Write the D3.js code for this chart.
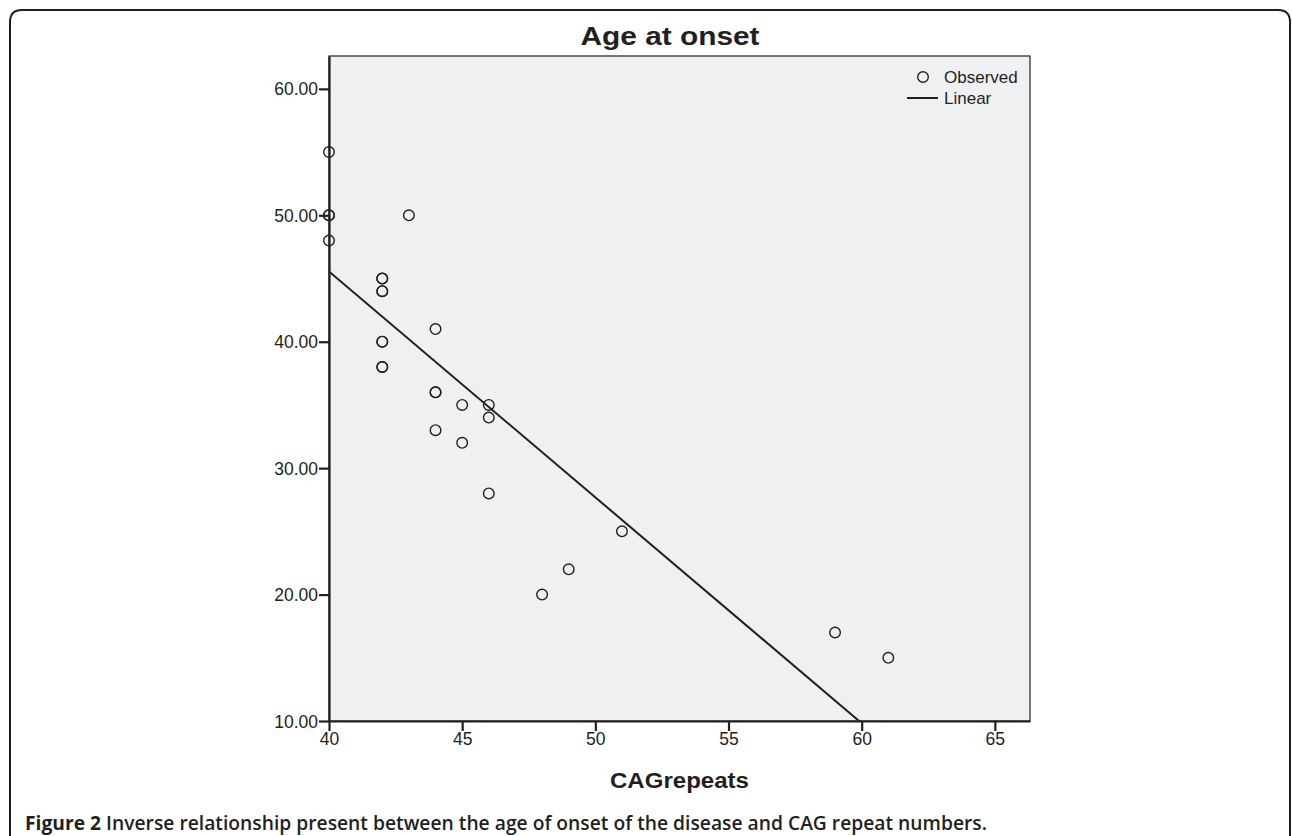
<!DOCTYPE html>
<html>
<head>
<meta charset="utf-8">
<script src="https://cdn.jsdelivr.net/npm/d3@7"></script>
<style>
  body { margin: 0; background: #fff; }
  svg { display: block; }
</style>
</head>
<body>
<svg width="1292" height="836"></svg>
<script>
// CAG repeats vs age at onset (duplicates appear as darker circles)
const cagRepeats = [40, 40, 40, 40, 42, 42, 42, 42, 42, 42, 42, 42, 43, 44, 44, 44, 44, 45, 45, 46, 46, 46, 48, 49, 51, 59, 61];
const ageOnset   = [55, 50, 50, 48, 45, 45, 44, 44, 40, 40, 38, 38, 50, 41, 36, 36, 33, 35, 32, 35, 34, 28, 20, 22, 25, 17, 15];
const yTicks = [10, 20, 30, 40, 50, 60];
const xTicks = [40, 45, 50, 55, 60, 65];
const legendLabels = ['Observed', 'Linear'];

const ink = '#231f20';
const svg = d3.select('svg'),
    width = +svg.attr('width'),
    height = +svg.attr('height');

// outer figure frame with rounded corners
svg.append('path')
    .attr('d', `M10,${height + 5} L10,22 Q10,10 22,10 L1278,10 Q1290,10 1290,22 L1290,${height + 5}`)
    .attr('fill', 'none')
    .attr('stroke', ink)
    .attr('stroke-width', 2);

const plot = { left: 329, right: 1030, top: 56, bottom: 721 };

const x = d3.scaleLinear()
    .domain([40, 66.32])
    .range([plot.left, plot.right]);
const y = d3.scaleLinear()
    .domain([10, 62.6])
    .range([plot.bottom, plot.top]);

svg.append('rect')
    .attr('x', plot.left)
    .attr('y', plot.top)
    .attr('width', plot.right - plot.left)
    .attr('height', plot.bottom - plot.top)
    .attr('fill', '#eff0f2')
    .attr('stroke', ink)
    .attr('stroke-width', 1.2);

svg.append('defs').append('clipPath').attr('id', 'clip')
  .append('rect')
    .attr('x', plot.left)
    .attr('y', plot.top)
    .attr('width', plot.right - plot.left)
    .attr('height', plot.bottom - plot.top);

// axes
const yAxis = svg.append('g')
    .attr('transform', `translate(${plot.left},0)`)
    .call(d3.axisLeft(y).tickValues(yTicks).tickFormat(d3.format('.2f'))
      .tickSizeInner(10).tickSizeOuter(0).tickPadding(1));
const xAxis = svg.append('g')
    .attr('transform', `translate(0,${plot.bottom})`)
    .call(d3.axisBottom(x).tickValues(xTicks)
      .tickSizeInner(10).tickSizeOuter(0).tickPadding(2));

[xAxis, yAxis].forEach(g => {
  g.select('.domain').attr('stroke', ink).attr('stroke-width', 2.2);
  g.selectAll('.tick line').attr('stroke', ink).attr('stroke-width', 2.2);
  g.selectAll('.tick text')
      .attr('fill', ink)
      .style('font-family', 'Liberation Sans, Arial, sans-serif')
      .style('font-size', '17.5px');
});
yAxis.selectAll('.tick text').attr('dy', '0.35em');

// least squares fit line
const mx = d3.mean(cagRepeats), my = d3.mean(ageOnset);
const sxy = d3.sum(cagRepeats, (v, i) => (v - mx) * (ageOnset[i] - my));
const sxx = d3.sum(cagRepeats, v => (v - mx) * (v - mx));
const slope = sxy / sxx, intercept = my - slope * mx;
const fitX = [40, 62];

svg.append('path')
    .datum(fitX)
    .attr('clip-path', 'url(#clip)')
    .attr('fill', 'none')
    .attr('stroke', ink)
    .attr('stroke-width', 2)
    .attr('d', d3.line().x(d => x(d)).y(d => y(intercept + slope * d)));

svg.append('g')
  .selectAll('circle')
  .data(cagRepeats)
  .enter().append('circle')
    .attr('cx', d => x(d))
    .attr('cy', (d, i) => y(ageOnset[i]))
    .attr('r', 5.3)
    .attr('fill', 'none')
    .attr('stroke', ink)
    .attr('stroke-width', 1.4);

// legend
const legend = svg.append('g')
    .style('font-family', 'Liberation Sans, Arial, sans-serif')
    .style('font-size', '17px')
    .attr('fill', ink);
legend.append('circle')
    .attr('cx', 923).attr('cy', 77).attr('r', 5.3)
    .attr('fill', 'none').attr('stroke', ink).attr('stroke-width', 1.4);
legend.append('line')
    .attr('x1', 907).attr('x2', 938).attr('y1', 98).attr('y2', 98)
    .attr('stroke', ink).attr('stroke-width', 2);
legend.selectAll('text')
  .data(legendLabels)
  .enter().append('text')
    .attr('x', 944)
    .attr('y', (d, i) => 83 + i * 21)
    .text(d => d);

// titles
svg.append('text')
    .attr('x', 670)
    .attr('y', 45)
    .attr('text-anchor', 'middle')
    .attr('fill', ink)
    .attr('textLength', 179)
    .attr('lengthAdjust', 'spacingAndGlyphs')
    .style('font-family', 'Liberation Sans, Arial, sans-serif')
    .style('font-weight', 'bold')
    .style('font-size', '25px')
    .text('Age at onset');

svg.append('text')
    .attr('x', 679.5)
    .attr('y', 788)
    .attr('text-anchor', 'middle')
    .attr('fill', ink)
    .attr('textLength', 139)
    .attr('lengthAdjust', 'spacingAndGlyphs')
    .style('font-family', 'Liberation Sans, Arial, sans-serif')
    .style('font-weight', 'bold')
    .style('font-size', '21.5px')
    .text('CAGrepeats');

const caption = svg.append('text')
    .attr('x', 25)
    .attr('y', 830)
    .attr('fill', ink)
    .attr('textLength', 962)
    .attr('lengthAdjust', 'spacingAndGlyphs')
    .style('font-family', 'Open Sans, Noto Sans, sans-serif')
    .style('font-size', '19.5px');
caption.append('tspan').style('font-weight', 'bold').text('Figure 2 ');
caption.append('tspan').style('font-weight', '600')
    .text('Inverse relationship present between the age of onset of the disease and CAG repeat numbers.');
</script>
</body>
</html>
